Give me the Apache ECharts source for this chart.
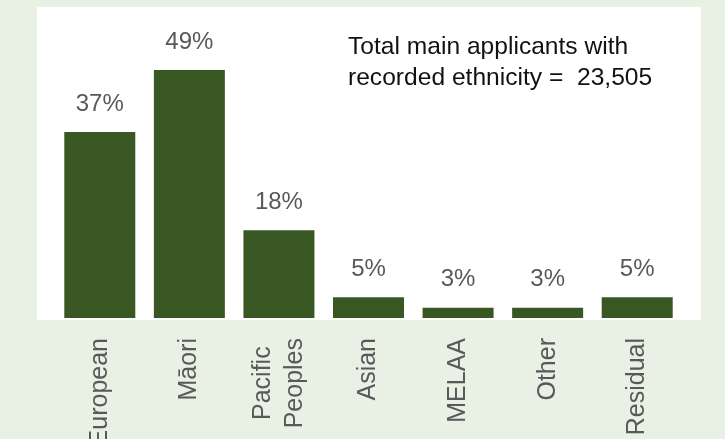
<!DOCTYPE html>
<html>
<head>
<meta charset="utf-8">
<script src="https://cdn.jsdelivr.net/npm/echarts@6/dist/echarts.min.js"></script>
<style>
html,body{margin:0;padding:0;background:#e9f0e4;}
#c{width:725px;height:439px;}
</style>
</head>
<body>
<div id="c"></div>
<script>
const categories = ['European', 'Māori', 'Pacific\nPeoples', 'Asian', 'MELAA', 'Other', 'Residual'];
const values = [37, 49, 18, 5, 3, 3, 5];
const valueLabels = ['37%', '49%', '18%', '5%', '3%', '3%', '5%'];
const noteLines = ['Total main applicants with', 'recorded ethnicity =  23,505'];

const FONT = '"Liberation Sans", Arial, sans-serif';
const chart = echarts.init(document.getElementById('c'));
chart.setOption({
  backgroundColor: '#e9f0e4',
  animation: false,
  graphic: [
    { type: 'rect', z: -10, shape: { x: 37, y: 7, width: 664, height: 313 }, style: { fill: '#ffffff' } },
    { type: 'text', left: 348, top: 32, style: { text: noteLines.join('\n'), font: '24.6px ' + FONT, lineHeight: 31, fill: '#111111' } }
  ],
  grid: { left: 55, right: 43, top: 8, bottom: 121, containLabel: false, outerBoundsMode: 'none' },
  xAxis: {
    type: 'category',
    data: categories,
    axisLine: { show: false },
    axisTick: { show: false },
    axisLabel: {
      rotate: 90,
      margin: 20,
      fontSize: 25,
      lineHeight: 32,
      color: '#595959',
      fontFamily: FONT,
      interval: 0,
      formatter: v => v.split('\n').map(s => '{c|' + s + '}').join('\n'),
      rich: {
        c: { align: 'center', fontSize: 25, lineHeight: 32, color: '#595959', fontFamily: FONT }
      }
    }
  },
  yAxis: {
    type: 'value',
    min: 1,
    max: 61,
    show: false,
    splitLine: { show: false }
  },
  series: [{
    type: 'bar',
    data: values,
    barWidth: 71,
    itemStyle: { color: '#385723' },
    label: {
      show: true,
      position: 'top',
      distance: 16,
      fontSize: 24,
      color: '#595959',
      fontFamily: FONT,
      formatter: p => valueLabels[p.dataIndex]
    }
  }]
});
</script>
</body>
</html>
